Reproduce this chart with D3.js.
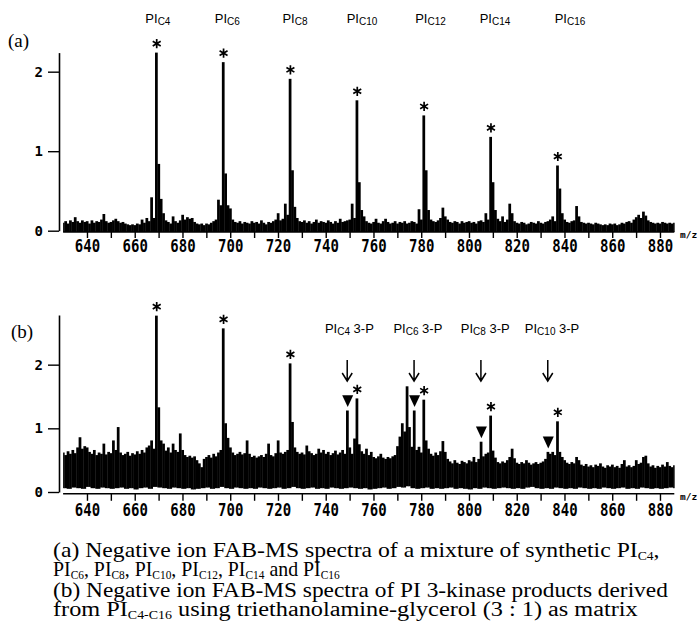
<!DOCTYPE html>
<html><head><meta charset="utf-8">
<script src="https://cdn.jsdelivr.net/npm/d3@7"></script>
<style>body{margin:0;background:#fff} svg{display:block}</style>
</head><body><svg id="c" width="700" height="630"></svg>
<script>
// ---------- DATA ----------
const mzStart = 630, mzEnd = 886;
// panel (a): intensity per 1 m/z, 630..886
const topSpectrum = [
0.10,0.12,0.09,0.13,0.11,0.17,0.12,0.10,0.13,0.11,
0.12,0.09,0.13,0.10,0.12,0.11,0.14,0.21,0.12,0.10,
0.11,0.13,0.15,0.12,0.10,0.11,0.09,0.08,0.07,0.08,
0.07,0.09,0.08,0.14,0.10,0.16,0.12,0.42,0.16,2.24,
0.84,0.40,0.22,0.13,0.11,0.09,0.18,0.12,0.10,0.13,
0.20,0.14,0.17,0.15,0.16,0.11,0.09,0.08,0.09,0.07,
0.09,0.08,0.10,0.12,0.14,0.39,0.32,2.12,0.72,0.32,
0.28,0.14,0.11,0.10,0.12,0.09,0.11,0.10,0.09,0.12,
0.10,0.11,0.09,0.13,0.10,0.08,0.11,0.10,0.12,0.14,
0.22,0.13,0.15,0.34,0.20,1.91,0.76,0.30,0.16,0.12,
0.11,0.13,0.10,0.12,0.09,0.11,0.14,0.10,0.12,0.11,
0.10,0.13,0.11,0.09,0.12,0.10,0.15,0.11,0.12,0.13,
0.14,0.34,0.16,1.64,0.61,0.26,0.18,0.12,0.10,0.09,
0.11,0.15,0.10,0.09,0.12,0.15,0.11,0.09,0.10,0.12,
0.09,0.11,0.10,0.12,0.09,0.10,0.12,0.11,0.09,0.27,
0.14,1.45,0.76,0.26,0.14,0.12,0.11,0.13,0.16,0.29,
0.18,0.14,0.11,0.10,0.12,0.11,0.09,0.12,0.10,0.11,
0.12,0.10,0.11,0.09,0.12,0.13,0.11,0.22,0.14,1.18,
0.61,0.26,0.15,0.12,0.18,0.11,0.14,0.34,0.22,0.12,
0.10,0.09,0.11,0.10,0.08,0.09,0.11,0.10,0.09,0.12,
0.10,0.09,0.11,0.12,0.14,0.18,0.12,0.82,0.53,0.22,
0.14,0.11,0.10,0.12,0.13,0.31,0.18,0.11,0.10,0.09,
0.10,0.09,0.08,0.10,0.09,0.08,0.07,0.08,0.07,0.09,
0.08,0.09,0.07,0.08,0.10,0.09,0.11,0.12,0.10,0.14,
0.17,0.20,0.16,0.24,0.19,0.13,0.11,0.10,0.09,0.10,
0.09,0.11,0.10,0.09,0.10,0.09,0.10];
// panel (b): upper envelope per 1 m/z, 630..886
const bottomUpper = [
0.62,0.58,0.64,0.60,0.66,0.61,0.70,0.86,0.68,0.72,
0.70,0.63,0.60,0.66,0.58,0.62,0.60,0.76,0.59,0.63,
0.61,0.81,0.66,1.02,0.62,0.58,0.60,0.63,0.57,0.61,
0.59,0.64,0.60,0.66,0.62,0.70,0.73,0.81,0.68,2.77,
1.33,0.81,0.76,0.65,0.70,0.62,0.76,0.66,0.63,0.92,
0.66,0.58,0.55,0.57,0.54,0.56,0.50,0.45,0.39,0.52,
0.55,0.58,0.54,0.60,0.56,0.62,0.66,2.57,1.08,0.85,
0.70,0.62,0.58,0.60,0.63,0.59,0.61,0.81,0.60,0.55,
0.57,0.54,0.56,0.58,0.55,0.60,0.76,0.58,0.56,0.61,
0.81,0.62,0.60,0.63,0.66,2.02,1.10,0.70,0.63,0.60,
0.62,0.59,0.73,0.64,0.61,0.58,0.60,0.68,0.62,0.66,
0.60,0.63,0.58,0.61,0.65,0.59,0.62,0.66,0.60,1.28,
0.70,0.60,0.84,1.47,0.75,0.64,0.60,0.68,0.58,0.63,
0.55,0.53,0.56,0.60,0.54,0.52,0.55,0.53,0.56,0.58,
0.72,0.87,1.08,0.95,1.66,1.02,0.71,1.28,0.66,0.71,
0.62,1.45,0.81,0.68,0.60,0.57,0.62,0.58,0.64,0.80,
0.63,0.52,0.48,0.45,0.50,0.46,0.44,0.49,0.47,0.45,
0.50,0.48,0.55,0.47,0.52,0.79,0.56,0.60,0.62,1.20,
0.65,0.54,0.47,0.45,0.48,0.46,0.50,0.55,0.68,0.53,
0.46,0.44,0.47,0.45,0.50,0.46,0.43,0.45,0.47,0.44,
0.46,0.48,0.52,0.63,0.60,0.63,0.58,1.11,0.63,0.55,
0.50,0.46,0.44,0.47,0.45,0.55,0.50,0.43,0.41,0.44,
0.40,0.42,0.39,0.43,0.41,0.45,0.40,0.38,0.42,0.40,
0.43,0.39,0.41,0.38,0.44,0.50,0.40,0.42,0.39,0.41,
0.50,0.44,0.46,0.55,0.57,0.45,0.40,0.42,0.38,0.41,
0.39,0.43,0.40,0.47,0.41,0.39,0.42];
// panel (b): lower envelope per 2 m/z, 630..886
const bottomLower = [
0.06,0.05,0.07,0.06,0.05,0.08,0.06,0.05,0.07,0.06,
0.05,0.06,0.07,0.05,0.06,0.04,0.06,0.07,0.05,0.08,
0.07,0.06,0.05,0.07,0.06,0.05,0.06,0.04,0.05,0.06,
0.07,0.05,0.06,0.08,0.06,0.05,0.07,0.06,0.05,0.06,
0.05,0.07,0.06,0.05,0.06,0.07,0.05,0.06,0.08,0.06,
0.05,0.06,0.07,0.05,0.06,0.05,0.07,0.06,0.05,0.06,
0.07,0.06,0.05,0.06,0.04,0.05,0.06,0.07,0.05,0.06,
0.08,0.07,0.09,0.06,0.05,0.06,0.07,0.05,0.06,0.05,
0.06,0.07,0.05,0.06,0.05,0.04,0.06,0.05,0.07,0.06,
0.05,0.06,0.07,0.06,0.05,0.06,0.05,0.07,0.08,0.06,
0.05,0.06,0.05,0.07,0.06,0.05,0.06,0.05,0.07,0.06,
0.05,0.06,0.05,0.07,0.06,0.05,0.06,0.07,0.05,0.06,
0.05,0.07,0.06,0.05,0.06,0.05,0.06,0.07,0.06];

const topStarMz = [669, 697, 725, 753, 781, 809, 837];
const topStarHeights = [2.24, 2.12, 1.91, 1.64, 1.45, 1.18, 0.82];
const topLabelSubs = ["C4", "C6", "C8", "C10", "C12", "C14", "C16"];
const topLabelMz = [669.7, 698.8, 727.1, 755.2, 783.9, 810.9, 842.3];

const botStarMz = [669, 697, 725, 753, 781, 809, 837];
const botStarHeights = [2.77, 2.57, 2.02, 1.47, 1.45, 1.20, 1.11];
const triMz = [749, 777, 805, 833];
const triHeights = [1.28, 1.28, 0.79, 0.63];
const botLabelSubs = ["C4", "C6", "C8", "C10"];
const botLabelMz = [749.9, 778.6, 806.8, 834.8];

const xTickValues = [640,650,660,670,680,690,700,710,720,730,740,750,760,770,780,790,800,810,820,830,840,850,860,870,880];
const xTickLabels = ["640","","660","","680","","700","","720","","740","","760","","780","","800","","820","","840","","860","","880"];
const yTickValues = [0, 1, 2];
const yTickLabels = ["0", "1", "2"];
const captionLines = [
  [["(a) Negative ion FAB-MS spectra of a mixture of synthetic PI",0],["C4",1],[",",0]],
  [["PI",0],["C6",1],[", PI",0],["C8",1],[", PI",0],["C10",1],[", PI",0],["C12",1],[", PI",0],["C14",1],[" and PI",0],["C16",1]],
  [["(b) Negative ion FAB-MS spectra of PI 3-kinase products derived",0]],
  [["from PI",0],["C4-C16",1],[" using triethanolamine-glycerol (3 : 1) as matrix",0]]
];

// ---------- DRAW ----------
const svg = d3.select("#c");
const mono = "'DejaVu Sans Mono', monospace";
const sans = "'Liberation Sans', Arial, sans-serif";
const serif = "'Liberation Serif', 'Times New Roman', serif";

const x = d3.scaleLinear().domain([mzStart, mzEnd]).range([63.1, 674.3]);

function panel(cfg) {
  const y = d3.scaleLinear().domain([0, cfg.ymax]).range([cfg.y0, cfg.ytop]);
  const g = svg.append("g");
  const mzs = d3.range(mzStart, mzEnd + 1);
  // spectrum sticks
  g.append("g").selectAll("rect").data(mzs).join("rect")
    .attr("x", d => Math.max(x(d - 0.5), x(mzStart)))
    .attr("width", d => Math.min(x(d + 0.5), x(mzEnd)) - Math.max(x(d - 0.5), x(mzStart)) + 0.35)
    .attr("y", (d, i) => y(cfg.upper[i]))
    .attr("height", (d, i) => (cfg.lower ? y(cfg.lower[Math.floor(i / 2)]) : cfg.axisY) - y(cfg.upper[i]))
    .attr("fill", "#000");
  // x axis
  const xa = d3.axisBottom(x).tickValues(xTickValues).tickSize(cfg.tick).tickSizeOuter(0)
    .tickFormat((d, i) => xTickLabels[i]);
  const gx = g.append("g").attr("transform", `translate(0,${cfg.axisY})`).call(xa);
  gx.select(".domain").attr("stroke-width", 1.6).attr("d", `M${x(mzStart)},0H${x(mzEnd)}`);
  gx.selectAll(".tick line").attr("stroke-width", 1.4);
  gx.selectAll(".tick text").attr("font-family", mono).attr("font-weight", "bold").attr("font-size", 14)
    .attr("fill", "#000").attr("dy", 0).attr("y", cfg.labOff / 1.2).attr("transform", "scale(1,1.2)");
  // y axis
  const ya = d3.axisLeft(y).tickValues(yTickValues).tickSize(11).tickPadding(5).tickSizeOuter(0)
    .tickFormat((d, i) => yTickLabels[i]);
  const gy = g.append("g").attr("transform", `translate(59,0)`).call(ya);
  gy.select(".domain").attr("stroke-width", 1.6);
  gy.selectAll(".tick line").attr("stroke-width", 1.4);
  gy.selectAll(".tick text").attr("font-family", mono).attr("font-weight", "bold").attr("font-size", 14)
    .attr("fill", "#000");
  // m/z
  g.append("text").attr("x", 680).attr("y", cfg.axisY + 6).text("m/z")
    .attr("font-family", mono).attr("font-size", 9.5).attr("font-weight", "bold");
  // panel label
  g.append("text").attr("x", cfg.labX).attr("y", cfg.labY).text(cfg.label)
    .attr("font-family", serif).attr("font-size", 19);
  // asterisks
  const r = 4.6, c = r * 0.866, s = r * 0.5;
  const star = `M0,${-r}L0,${r}M${-c},${-s}L${c},${s}M${-c},${s}L${c},${-s}`;
  g.append("g").selectAll("path").data(cfg.starMz).join("path")
    .attr("transform", (d, i) => `translate(${x(d) + 0.5},${y(cfg.starH[i]) - 9})`)
    .attr("d", star).attr("stroke", "#000").attr("stroke-width", 1.7).attr("fill", "none");
  return y;
}

const yTop = panel({ ymax: 2.24, y0: 230.7, ytop: 52.6, axisY: 232, tick: 6, labOff: 20,
  upper: topSpectrum, lower: null, label: "(a)", labX: 8, labY: 47,
  starMz: topStarMz, starH: topStarHeights });
const yBot = panel({ ymax: 2.78, y0: 492, ytop: 315, axisY: 493.8, tick: 7, labOff: 22.5,
  upper: bottomUpper, lower: bottomLower, label: "(b)", labX: 11, labY: 338,
  starMz: botStarMz, starH: botStarHeights });

// top PI labels
function piLabel(sel, sub, extra, size, subSize) {
  sel.append("tspan").text("PI").attr("font-size", size);
  sel.append("tspan").text(sub).attr("font-size", subSize).attr("dy", 1.5);
  if (extra) sel.append("tspan").text(extra).attr("font-size", size).attr("dy", -1.5);
}
topLabelSubs.forEach((s, i) => {
  const t = svg.append("text").attr("x", x(topLabelMz[i])).attr("y", 23)
    .attr("text-anchor", "middle").attr("font-family", sans);
  piLabel(t, s, null, 13, 10);
});
botLabelSubs.forEach((s, i) => {
  const t = svg.append("text").attr("x", x(botLabelMz[i])).attr("y", 333)
    .attr("text-anchor", "middle").attr("font-family", sans);
  piLabel(t, s, " 3-P", 13, 10);
});
// arrows
const ag = svg.append("g").attr("stroke", "#000").attr("stroke-width", 1.5).attr("fill", "none");
triMz.forEach(m => {
  const xx = x(m);
  ag.append("path").attr("d", `M${xx},360V381M${xx - 5},373L${xx},381L${xx + 5},373`);
});
// triangles
svg.append("g").selectAll("path").data(triMz).join("path")
  .attr("transform", (d, i) => `translate(${x(d) + 0.5},${yBot(triHeights[i]) - 9.5})`)
  .attr("d", "M-5.5,-5.8L5.5,-5.8L0,6Z").attr("fill", "#000");

// caption: each line stretched horizontally to the printed width
const capY = [557, 576, 597, 616];
const capW = [607, 287, 615, 585];
captionLines.forEach((line, li) => {
  const t = svg.append("text").attr("x", 0).attr("y", 0)
    .attr("font-family", serif).attr("font-size", 20);
  let prevSub = 0;
  line.forEach(([txt, sub]) => {
    const ts = t.append("tspan").text(txt).attr("font-size", sub ? 11.5 : 20);
    if (sub !== prevSub) ts.attr("dy", sub ? 2.5 : -2.5);
    prevSub = sub;
  });
  const w = t.node().getComputedTextLength();
  t.attr("transform", `translate(53,${capY[li]}) scale(${capW[li] / w},1)`);
});
</script></body></html>
